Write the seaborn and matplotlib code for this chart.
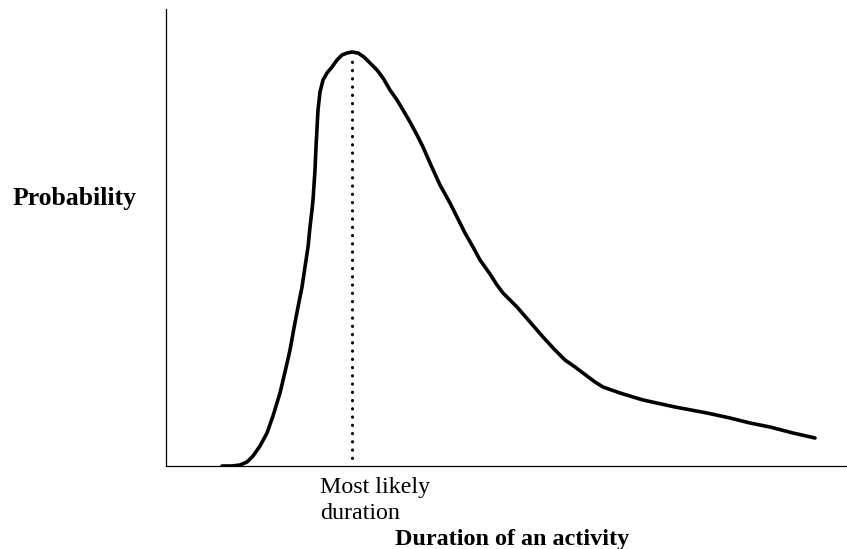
import numpy as np
import pandas as pd
import matplotlib
matplotlib.use("Agg")
import matplotlib.pyplot as plt
import seaborn as sns

# skewed activity-duration curve (arbitrary units)
duration = [56, 66, 74, 81, 87, 94, 101, 107, 114, 119,
            124, 128, 132, 136, 139, 142, 144, 146, 147, 149,
            150, 152, 154, 157, 161, 166, 171, 176, 181, 186,
            192, 198, 204, 211, 217, 224, 231, 237, 244, 251,
            257, 264, 274, 284, 291, 299, 307, 314, 324, 331,
            337, 344, 351, 364, 377, 389, 399, 409, 417, 429,
            437, 454, 477, 509, 541, 564, 584, 604, 627, 649]
probability = [0, 0, 1, 4, 10, 20, 33, 50, 73, 94,
               116, 138, 159, 179, 199, 219, 239, 256, 266, 296,
               319, 356, 374, 386, 393, 399, 406, 411, 413, 414,
               413, 409, 403, 396, 388, 376, 366, 356, 344, 331,
               319, 303, 281, 263, 249, 233, 219, 206, 192, 181,
               173, 166, 159, 144, 129, 116, 106, 99, 93, 84,
               79, 73, 66, 59, 53, 48, 43, 39, 33, 28]
mode_x = 186
mode_top = 410

df = pd.DataFrame({"duration": duration, "probability": probability})

sns.set_style("white")
plt.rcParams['font.family'] = ['Liberation Serif', 'DejaVu Serif']

W, H = 847, 549
fig = plt.figure(figsize=(W / 100, H / 100), dpi=100)
ax = fig.add_axes([166 / W, (H - 466) / H, (W - 166) / W, (466 - 9) / H])

sns.lineplot(data=df, x="duration", y="probability", ax=ax, color="black",
             linewidth=2.6, solid_joinstyle="round", solid_capstyle="round")
ax.vlines(mode_x, 8, mode_top, color="black", linewidth=2.2,
          linestyles=[(0, (0.1, 2.6))], capstyle="round")

ax.set_xlim(0, W - 166)
ax.set_ylim(0, 466 - 9)
ax.set_xticks([])
ax.set_yticks([])
ax.set_xlabel("")
ax.set_ylabel("")
for s in ["top", "right"]:
    ax.spines[s].set_visible(False)
for s in ["left", "bottom"]:
    ax.spines[s].set_color("black")
    ax.spines[s].set_linewidth(0.9)

fig.text(75 / W, 1 - 199 / H, "Probability", fontsize=18.5, fontweight="bold",
         ha="center", va="center", color="black")
fig.text(320 / W, 1 - 477 / H, "Most likely\nduration", fontsize=17.3,
         ha="left", va="top", linespacing=1.32, color="black")
fig.text(512 / W, 1 - 539 / H, "Duration of an activity", fontsize=17.4,
         fontweight="bold", ha="center", va="center", color="black")

fig.savefig("out.png", dpi=100)
